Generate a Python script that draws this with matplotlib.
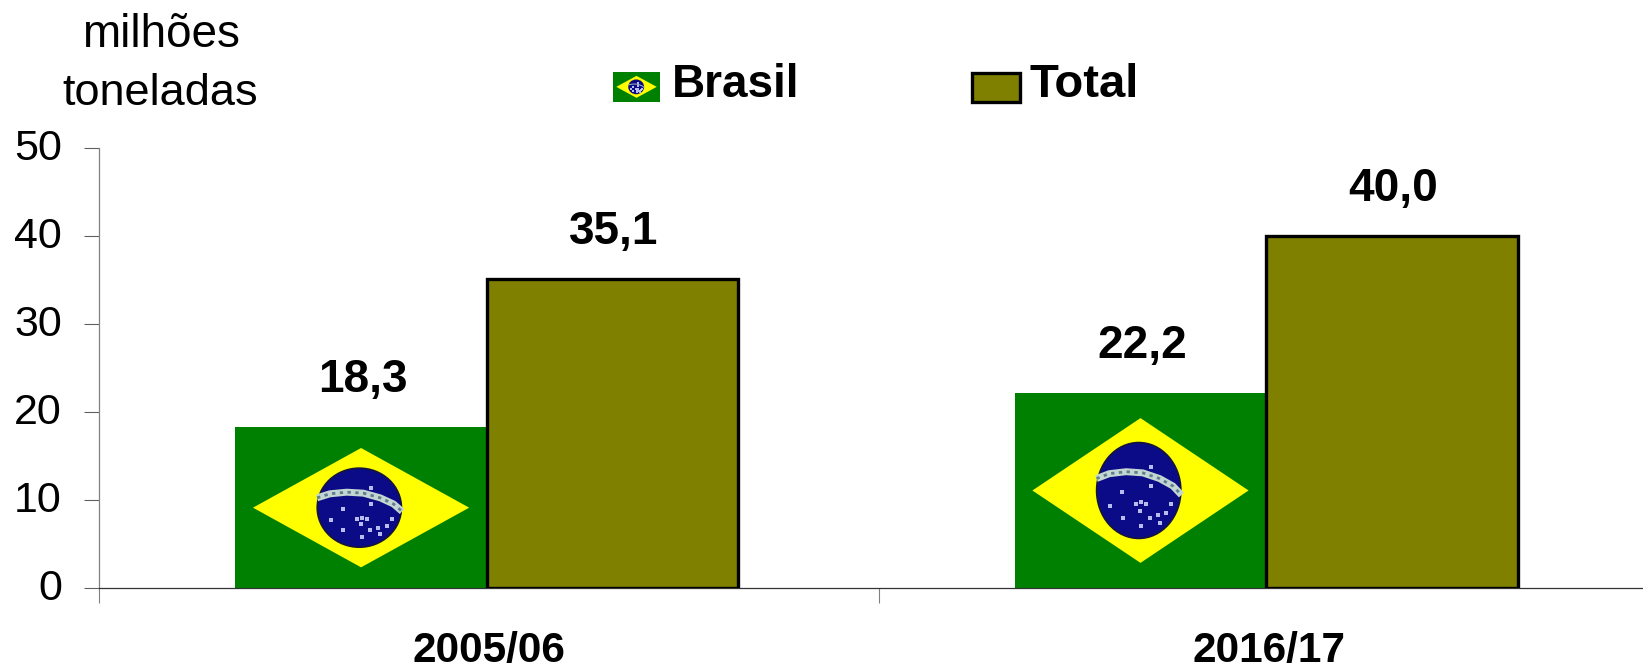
import numpy as np
import matplotlib
matplotlib.use("Agg")
import matplotlib.pyplot as plt
from matplotlib.patches import Ellipse, Polygon, Rectangle
from matplotlib.transforms import ScaledTranslation

plt.rcParams['font.family'] = ['Liberation Sans', 'DejaVu Sans']

categories = ['2005/06', '2016/17']
brasil = [18.3, 22.2]
total = [35.1, 40.0]
y_ticks = [0, 10, 20, 30, 40, 50]
series_names = ['Brasil', 'Total']
unit_lines = ['milhões', 'toneladas']

GREEN = '#008000'
YELLOW = '#ffff00'
NAVY = '#0b0b88'
OLIVE = '#808000'

W, H = 1643, 670

# flag details, as fractions of the flag box
band_x = [0.325, 0.376, 0.443, 0.509, 0.576, 0.629, 0.663]
band_y = [0.561, 0.586, 0.596, 0.590, 0.561, 0.523, 0.477]
star_x = [0.427, 0.379, 0.429, 0.503, 0.503, 0.483, 0.523, 0.500, 0.536,
          0.576, 0.569, 0.603, 0.623, 0.540, 0.540]
star_y = [0.492, 0.423, 0.360, 0.318, 0.439, 0.429, 0.429, 0.397, 0.360,
          0.335, 0.377, 0.387, 0.429, 0.621, 0.525]


def draw_flag(ax, left, bottom, width, height, scale=1.0):
    fx = lambda f: left + f * width
    fy = lambda f: bottom + f * height
    diamond = [(fx(0.07), fy(0.5)), (fx(0.5), fy(0.87)),
               (fx(0.93), fy(0.5)), (fx(0.5), fy(0.13))]
    ax.add_patch(Polygon(diamond, closed=True, facecolor=YELLOW, edgecolor='none', zorder=3))
    ax.add_patch(Ellipse((fx(0.493), fy(0.5)), 0.335 * width, 0.49 * height,
                         facecolor=NAVY, edgecolor='#15153a', linewidth=1.2 * scale, zorder=4))
    bx = [fx(v) for v in band_x]
    by = [fy(v) for v in band_y]
    ax.plot(bx, by, color='#c4d6d2', linewidth=5 * scale, zorder=5, solid_capstyle='butt')
    ax.plot(bx, by, color='#5f7f8f', linewidth=2 * scale, linestyle=(0, (1.2, 1.6)), zorder=6)
    ax.scatter([fx(v) for v in star_x], [fy(v) for v in star_y], s=10 * scale,
               color='#b8bcf0', linewidths=0, marker='s', zorder=6)


fig = plt.figure(figsize=(W / 100, H / 100), dpi=100, facecolor='white')
ax = fig.add_axes([99.4 / W, (H - 588.3) / H, 1558.8 / W, 440.6 / H])

x = np.arange(len(categories)) - 0.003
bar_w = 0.3225

brasil_bars = ax.bar(x - bar_w / 2, brasil, bar_w, color=GREEN, linewidth=0, zorder=2)
total_bars = ax.bar(x + bar_w / 2, total, bar_w, color=OLIVE, edgecolor='black', linewidth=2.4, zorder=3)

for b in brasil_bars:
    draw_flag(ax, b.get_x(), 0, b.get_width(), b.get_height())

for bars, vals in ((brasil_bars, brasil), (total_bars, total)):
    for b, v in zip(bars, vals):
        ax.annotate(f"{v:.1f}".replace('.', ','), (b.get_x() + b.get_width() / 2 + 0.002, v),
                    xytext=(0, 25), textcoords='offset points', ha='center', va='baseline',
                    fontsize=33, fontweight='bold', color='black')

ax.set_xlim(-0.5, 1.5)
ax.set_ylim(0, 50)
ax.set_yticks(y_ticks)
ax.set_xticks([-0.5, 0.5, 1.5])
ax.set_xticklabels([])
ax.set_xticks([0, 1], labels=categories, minor=True)
ax.tick_params(axis='x', which='major', length=10.5, width=0.8, color='#808080')
ax.tick_params(axis='x', which='minor', length=0, pad=31, labelsize=30.5)
ax.tick_params(axis='y', length=10.5, width=0.8, color='#606060', pad=16.5, labelsize=31)
for t in ax.get_xticklabels(minor=True):
    t.set_fontweight('bold')
up = ScaledTranslation(0, 2.5 / 72, fig.dpi_scale_trans)
for t in ax.get_yticklabels():
    t.set_transform(t.get_transform() + up)

ax.spines['top'].set_visible(False)
ax.spines['right'].set_visible(False)
ax.spines['left'].set_color('#808080')
ax.spines['left'].set_linewidth(0.9)
ax.spines['bottom'].set_color('#333333')
ax.spines['bottom'].set_linewidth(0.9)
ax.patch.set_visible(False)

# unit label above the y axis
fig.text(161 / W, 1 - 46.7 / H, unit_lines[0], ha='center', va='baseline', fontsize=33)
fig.text(160 / W, 1 - 105 / H, unit_lines[1], ha='center', va='baseline', fontsize=32.5)

# legend, built by hand because of the flag swatch
flag_ax = fig.add_axes([613 / W, 1 - 101.7 / H, 47 / W, 29.7 / H])
flag_ax.set_xlim(0, 1)
flag_ax.set_ylim(0, 1)
flag_ax.axis('off')
flag_ax.add_patch(Rectangle((0, 0), 1, 1, facecolor=GREEN, edgecolor='none', zorder=2))
draw_flag(flag_ax, 0, 0, 1, 1, scale=0.12)
fig.text(671.5 / W, 1 - 97 / H, series_names[0], ha='left', va='baseline', fontsize=33, fontweight='bold')

fig.add_artist(Rectangle((972 / W, 1 - 102 / H), 47.5 / W, 29.5 / H, transform=fig.transFigure,
                         facecolor=OLIVE, edgecolor='black', linewidth=2.4))
fig.text(1030 / W, 1 - 96.7 / H, series_names[1], ha='left', va='baseline', fontsize=34, fontweight='bold')

fig.savefig('out.png', dpi=100)
